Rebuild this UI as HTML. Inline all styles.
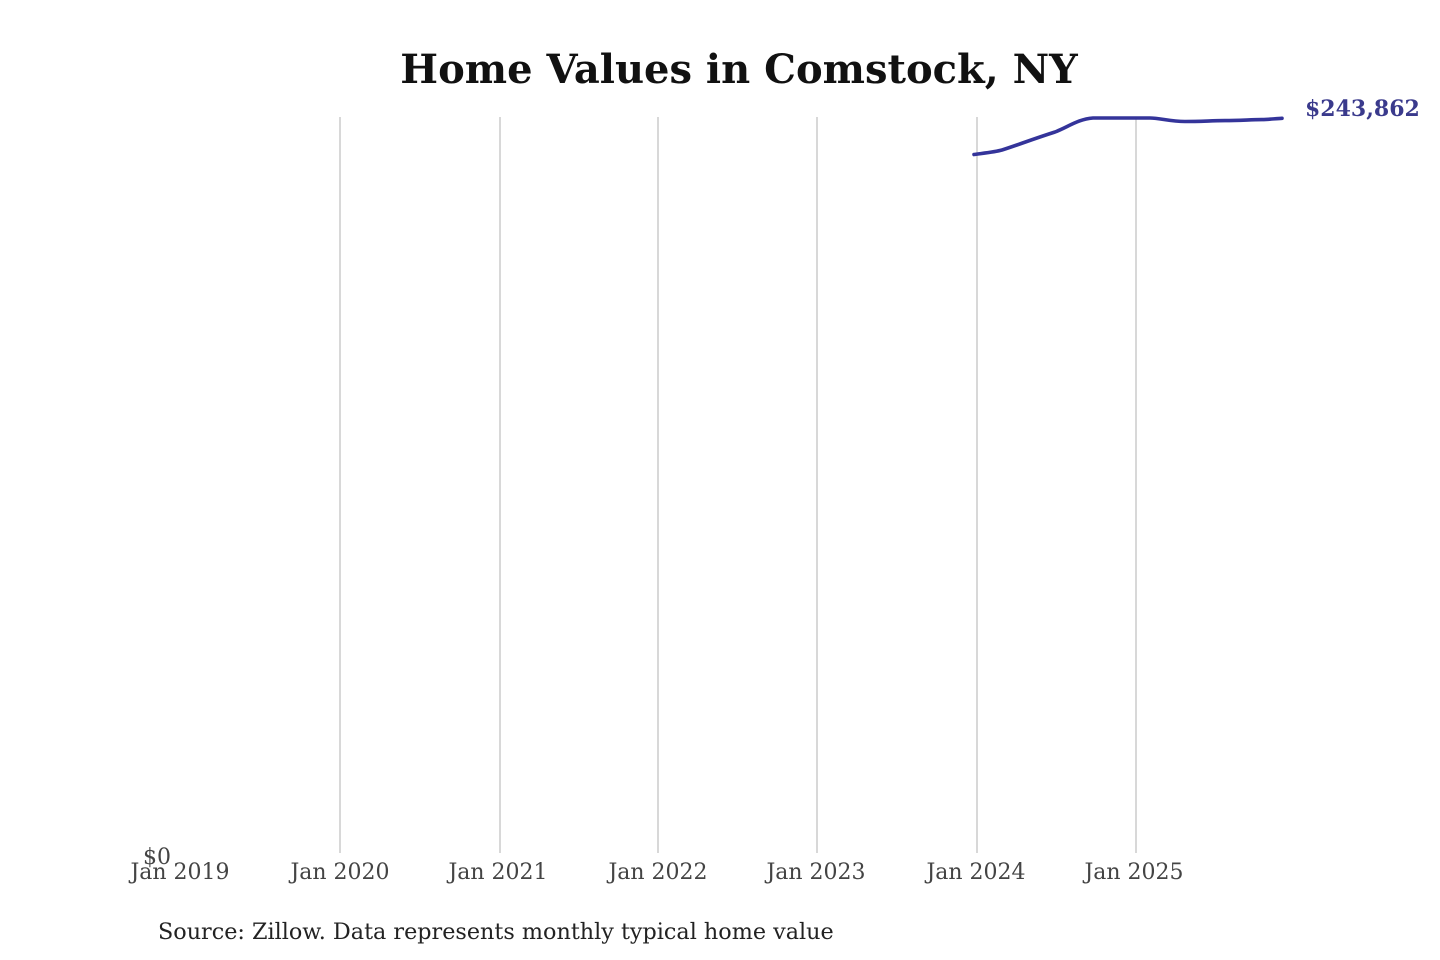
<!DOCTYPE html>
<html><head><meta charset="utf-8"><style>
html,body{margin:0;padding:0;background:#fff;}
svg{display:block;}
</style></head><body>
<svg width="1440" height="960" viewBox="0 0 1440 960" xmlns="http://www.w3.org/2000/svg">
<rect width="1440" height="960" fill="#fff"/>
<text x="739" y="83" text-anchor="middle" font-family="'DejaVu Serif', serif" font-weight="bold" font-size="40" fill="#111">Home Values in Comstock, NY</text>
<g stroke="#c4c4c4" stroke-width="1.3">
<line x1="340" y1="117" x2="340" y2="853"/>
<line x1="500" y1="117" x2="500" y2="853"/>
<line x1="658" y1="117" x2="658" y2="853"/>
<line x1="817" y1="117" x2="817" y2="853"/>
<line x1="977" y1="117" x2="977" y2="853"/>
<line x1="1136" y1="117" x2="1136" y2="853"/>
</g>
<path d="M974,154.5 C985,153 995,152 1002,150 C1015,146 1030,140 1055,132 C1068,127 1078,119 1093,118 L1150,118 C1160,118 1170,121.5 1185,121.5 C1200,121.5 1210,120.8 1225,120.6 C1240,120.4 1250,119.8 1262,119.6 C1270,119.4 1276,118.5 1282,118.3" fill="none" stroke="#34349a" stroke-width="3.6" stroke-linecap="round" stroke-linejoin="round"/>
<text x="1305" y="116" font-family="'DejaVu Serif', serif" font-weight="bold" font-size="22" fill="#3a3a8c">$243,862</text>
<g font-family="'DejaVu Serif', serif" font-size="22" fill="#444" text-anchor="middle">
<text x="180" y="879">Jan 2019</text>
<text x="340" y="879">Jan 2020</text>
<text x="498" y="879">Jan 2021</text>
<text x="658" y="879">Jan 2022</text>
<text x="816" y="879">Jan 2023</text>
<text x="976" y="879">Jan 2024</text>
<text x="1134" y="879">Jan 2025</text>
</g>
<text x="171" y="864" text-anchor="end" font-family="'DejaVu Serif', serif" font-size="22" fill="#444">$0</text>
<text x="158" y="939" font-family="'DejaVu Serif', serif" font-size="22.3" fill="#222">Source: Zillow. Data represents monthly typical home value</text>
</svg>
</body></html>
